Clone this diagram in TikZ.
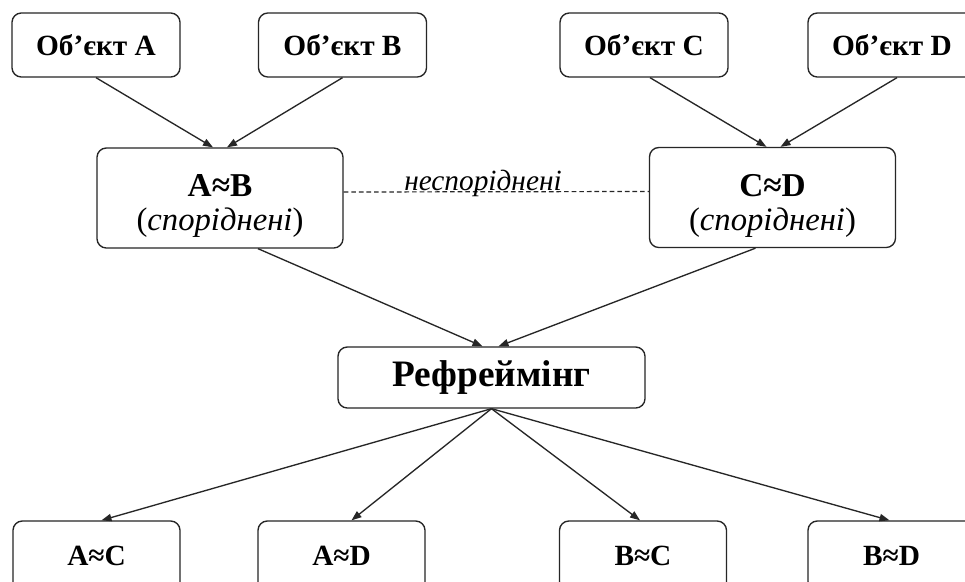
\documentclass[tikz,border=0pt]{standalone}
\usepackage{fontspec}
\setmainfont{Liberation Serif}
\usetikzlibrary{arrows.meta,calc}
\begin{document}
\begin{tikzpicture}[x=0.75pt,y=-0.75pt,
  box/.style={draw=black!85, rounded corners=7pt, line width=1pt, align=center, inner sep=0pt, fill=white},
  objbox/.style={box, minimum width=126pt, minimum height=48pt, font=\fontsize{22}{24}\selectfont\bfseries},
  pairbox/.style={box, minimum width=184.5pt, minimum height=75pt},
  resbox/.style={box, minimum width=125.25pt, minimum height=52.5pt, font=\fontsize{22}{24}\selectfont\bfseries},
  arr/.style={line width=1pt, draw=black!85, -{Triangle[length=7.5pt,width=5.5pt]}}]
\useasboundingbox (0,0) rectangle (965,582);
\clip (0,0) rectangle (965,582);
\fill[white] (0,0) rectangle (965,582);

\node[objbox] (A) at (96,45) {Об’єкт A};
\node[objbox] (B) at (342.5,45) {Об’єкт B};
\node[objbox] (C) at (644,45) {Об’єкт C};
\node[objbox] (D) at (892,45) {Об’єкт D};

\node[pairbox] (AB) at (220,198) {};
\node[font=\fontsize{25}{26}\selectfont, align=center] (ABt) at (220,206) {\textbf{A≈B}\\[-1pt]{\fontsize{24.5}{26}\selectfont(\textit{споріднені})}};
\node[pairbox] (CD) at (772.5,197.5) {};
\node[font=\fontsize{25}{26}\selectfont, align=center] (CDt) at (772.5,206) {\textbf{C≈D}\\[-1pt]{\fontsize{24.5}{26}\selectfont(\textit{споріднені})}};

\node[box, minimum width=230.25pt, minimum height=45.75pt, font=\fontsize{28}{30}\selectfont\bfseries] (R) at (491.5,377.5) {Рефреймінг};

\node[resbox] (AC) at (96.5,556) {A≈C};
\node[resbox] (AD) at (341.5,556) {A≈D};
\node[resbox] (BC) at (643,556) {B≈C};
\node[resbox] (BD) at (891.5,556) {B≈D};

\draw[arr] (A.south) -- ($(AB.north)+(-7,0)$);
\draw[arr] (B.south) -- ($(AB.north)+(7,0)$);
\draw[arr] ($(C.south)+(6,0)$) -- ($(CD.north)+(-6,0)$);
\draw[arr] ($(D.south)+(5,0)$) -- ($(CD.north)+(8,0)$);

\draw[arr] ($(AB.south)+(38,0)$) -- ($(R.north)+(-9,0)$);
\draw[arr] ($(CD.south)+(-17,0)$) -- ($(R.north)+(7,0)$);

\draw[arr] (R.south) -- ($(AC.north)+(5,0)$);
\draw[arr] (R.south) -- ($(AD.north)+(10,0)$);
\draw[arr] (R.south) -- ($(BC.north)+(-3,0)$);
\draw[arr] (R.south) -- ($(BD.north)+(-2,0)$);

\draw[line width=0.9pt, draw=black!85, dash pattern=on 3.5pt off 2.2pt] ($(AB.east)+(0,-6)$) -- ($(CD.west)+(0,-6)$);
\node[anchor=base, inner sep=0pt, font=\fontsize{22}{24}\selectfont\itshape] (lbl) at (483,190) {неспоріднені};
\end{tikzpicture}
\end{document}
